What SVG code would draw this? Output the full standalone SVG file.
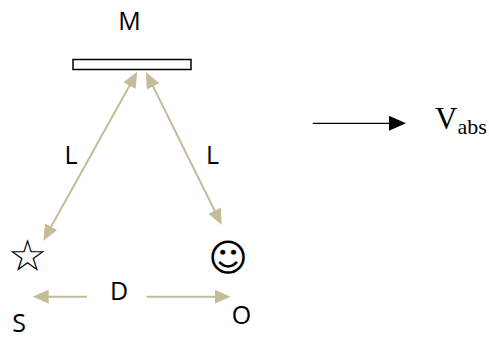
<svg xmlns="http://www.w3.org/2000/svg" width="489" height="339" viewBox="0 0 489 339">
<style>
.lbl{font-family:"Open Sans","Liberation Sans",sans-serif;font-size:25px;fill:#000}
.sym{font-family:"DejaVu Sans",sans-serif;fill:#000}
.tan{stroke:#C4BC96;stroke-width:2;fill:none}
.blk{stroke:#000;stroke-width:1.3;fill:none}
.times{font-family:"Liberation Serif",serif;fill:#000}
</style>
<defs>
<marker id="ah" markerUnits="userSpaceOnUse" markerWidth="16" markerHeight="14" refX="6" refY="7" orient="auto-start-reverse" viewBox="0 0 16 14">
<path d="M0,0 L16,7 L0,14 z" fill="#C4BC96"/>
</marker>
<marker id="bh" markerUnits="userSpaceOnUse" markerWidth="17" markerHeight="15" refX="6" refY="7.5" orient="auto" viewBox="0 0 17 15">
<path d="M0,0 L17,7.5 L0,15 z" fill="#000"/>
</marker>
</defs>
<g id="mirror">
<rect x="73" y="59.5" width="118" height="10" fill="#fff" stroke="#000" stroke-width="1.5"/>
<text class="lbl" x="129.5" y="29.5" text-anchor="middle">M</text>
</g>
<g id="source">
<text class="sym" x="27.5" y="271" font-size="44" text-anchor="middle">☆</text>
<text class="lbl" x="19" y="332" text-anchor="middle">S</text>
</g>
<g id="observer">
<text class="sym" x="228" y="271" font-size="38" text-anchor="middle">☺</text>
<text class="lbl" x="241.5" y="324" text-anchor="middle">O</text>
</g>
<g id="labels">
<text class="lbl" x="71" y="164" text-anchor="middle">L</text>
<text class="lbl" x="212.5" y="164" text-anchor="middle">L</text>
<text class="lbl" x="119" y="300" text-anchor="middle">D</text>
</g>
<g id="velocity">
<text class="times" x="435" y="129.3" font-size="31">V<tspan font-size="22" dy="5">abs</tspan></text>
</g>
<g id="connectors">
<line class="tan" x1="132.4" y1="80.4" x2="48.2" y2="232" marker-start="url(#ah)" marker-end="url(#ah)"/>
<line class="tan" x1="150.4" y1="81" x2="217.3" y2="216" marker-start="url(#ah)" marker-end="url(#ah)"/>
<line class="tan" x1="87" y1="296.7" x2="42.7" y2="296.7" marker-end="url(#ah)"/>
<line class="tan" x1="146.7" y1="296.7" x2="220.7" y2="296.7" marker-end="url(#ah)"/>
<line class="blk" x1="312.7" y1="123.3" x2="395" y2="123.3" marker-end="url(#bh)"/>
</g>
</svg>
